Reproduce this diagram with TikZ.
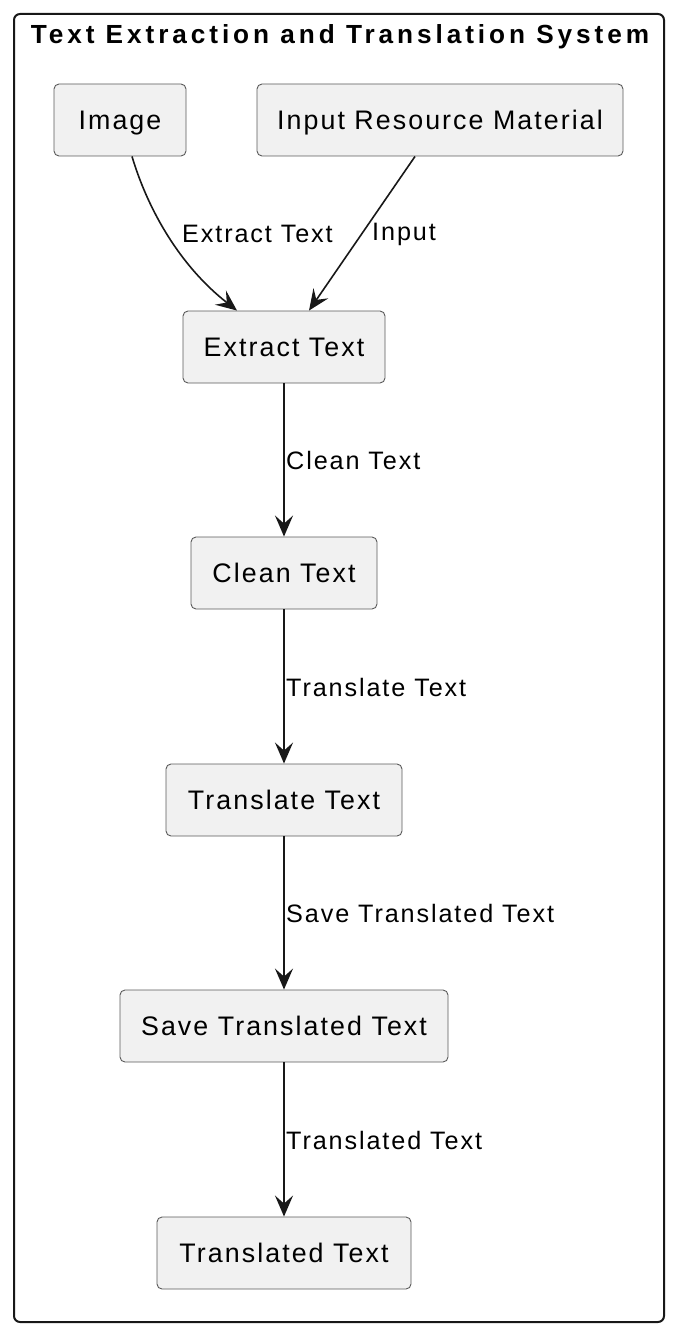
\documentclass[tikz,border=0pt]{standalone}
\usepackage{fontspec}
\setmainfont{Liberation Sans}
\newfontfamily\boxfont[LetterSpace=7.7]{Liberation Sans}
\newfontfamily\lblfont[LetterSpace=7.5]{Liberation Sans}
\newfontfamily\ttlfont[LetterSpace=15]{Liberation Sans}
\usetikzlibrary{arrows.meta,calc}
\definecolor{boxfill}{HTML}{F1F1F1}
\definecolor{boxline}{HTML}{5A5A5A}
\definecolor{ink}{HTML}{181818}
\tikzset{
  stepbox/.style={draw=boxline, fill=boxfill, line width=0.9pt, rounded corners=5pt,
    minimum height=72pt, inner sep=0pt, text height=21pt, text depth=2pt,
    font=\boxfont\fontsize{26.8}{30}\selectfont, text=black},
  conn/.style={draw=ink, line width=1.6pt, -{Stealth[length=21pt,width=18pt,inset=8pt]}},
  elabel/.style={inner sep=0pt, font=\lblfont\fontsize{25.2}{28}\selectfont, text=black},
}
\begin{document}
\begin{tikzpicture}[x=1pt,y=-1pt]
\useasboundingbox (0,0) rectangle (676,1332);
\draw[draw=ink, line width=2pt, rounded corners=6pt] (14,14) rectangle (664,1322);
\node[font=\ttlfont\bfseries\fontsize{26.2}{30}\selectfont, inner sep=0pt] (title) at (340,36.5) {Text Extraction and Translation System};

\node[stepbox, minimum width=132pt] (img) at (120,120) {Image};
\node[stepbox, minimum width=366pt] (inp) at (440,120) {Input Resource Material};
\node[stepbox, minimum width=202pt] (ext) at (284,347) {Extract Text};
\node[stepbox, minimum width=186pt] (cln) at (284,573) {Clean Text};
\node[stepbox, minimum width=236pt] (trn) at (284,800) {Translate Text};
\node[stepbox, minimum width=328pt] (sav) at (284,1026) {Save Translated Text};
\node[stepbox, minimum width=254pt] (out) at (284,1253) {Translated Text};

\draw[conn] ($(img.south)+(12,0)$) .. controls (148,210) and (180,266) .. ($(ext.north)+(-47,0)$);
\draw[conn] ($(inp.south)+(-25,0)$) -- ($(ext.north)+(25,0)$);
\draw[conn] (ext.south) -- (cln.north);
\draw[conn] (cln.south) -- (trn.north);
\draw[conn] (trn.south) -- (sav.north);
\draw[conn] (sav.south) -- (out.north);

\node[elabel, anchor=west] (l1) at (182,234) {Extract Text};
\node[elabel, anchor=west] (l2) at (372,234) {Input};
\node[elabel, anchor=west] (l3) at (286,460) {Clean Text};
\node[elabel, anchor=west] (l4) at (286,687) {Translate Text};
\node[elabel, anchor=west] (l5) at (286,913) {Save Translated Text};
\node[elabel, anchor=west] (l6) at (286,1140) {Translated Text};
\end{tikzpicture}
\end{document}
